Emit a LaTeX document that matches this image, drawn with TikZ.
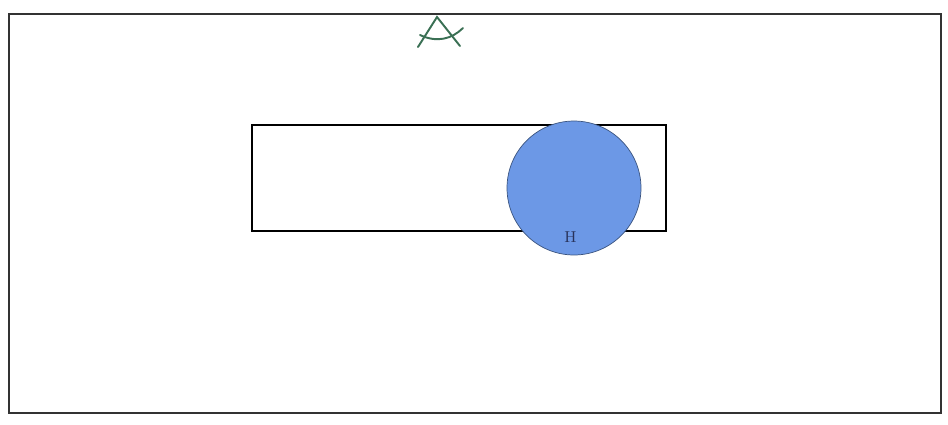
\documentclass[tikz,border=0pt]{standalone}
\usepackage{tikz}
\usetikzlibrary{positioning}
\definecolor{ballblue}{RGB}{108,152,230}
\definecolor{pengreen}{RGB}{58,112,84}
\definecolor{inkblue}{RGB}{40,50,90}
\tikzset{
  frm/.style  ={draw=black!80, line width=0.9pt},
  bar/.style  ={draw=black, line width=0.8pt},
  ball/.style ={circle, draw=black!45!ballblue, fill=ballblue, line width=0.4pt,
                minimum size=2.68cm, inner sep=0pt},
  pen/.style  ={draw=pengreen, line width=1.1pt, line cap=round},
  lbl/.style  ={font=\small, text=inkblue, inner sep=0pt},
}
\begin{document}
\begin{tikzpicture}[x=0.02cm, y=-0.02cm]
\useasboundingbox (0,0) rectangle (948,424);
\draw[frm] (9,14) rectangle (941,413);
\draw[bar] (252,125) rectangle (666,231);
\node[ball] (b) at (574,188) {};
\node[lbl, above=7pt of b.south, xshift=-2pt] (h) {H};
% the A mark at the top
\draw[pen] (418,47) -- (437,17) -- (460,46);
\draw[pen] (420,35) .. controls (437,43) and (452,39) .. (463,28);
\end{tikzpicture}
\end{document}
